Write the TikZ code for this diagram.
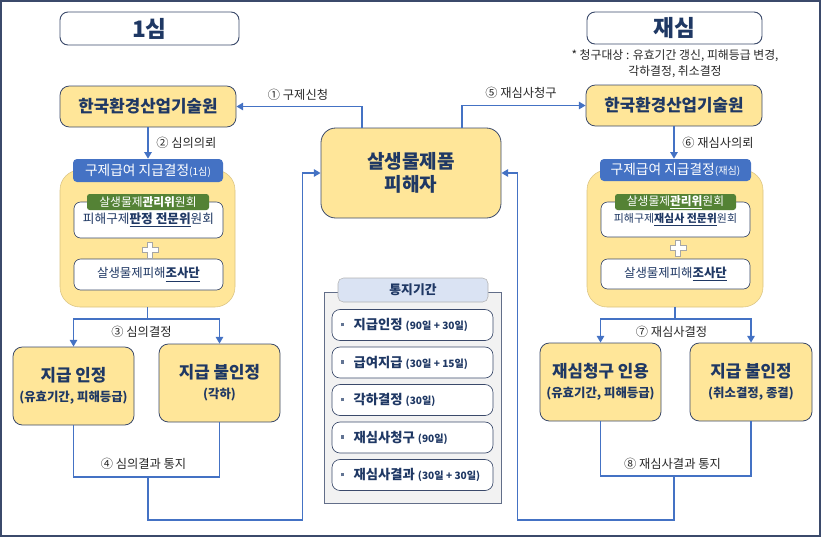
\documentclass[tikz,border=0pt]{standalone}
\usepackage{fontspec}
\setmainfont{Noto Sans CJK KR}
\usetikzlibrary{calc,arrows.meta}
\definecolor{navy}{HTML}{1F3864}
\definecolor{ink}{HTML}{3B4A6B}
\definecolor{pale}{HTML}{FFE699}
\definecolor{arrblue}{HTML}{4472C4}
\definecolor{tagc}{HTML}{548235}
\definecolor{tabc}{HTML}{DAE3F3}
\definecolor{panelc}{HTML}{F2F2F2}
\definecolor{txt}{HTML}{262626}

\begin{document}
\begin{tikzpicture}[x=0.75pt,y=-0.75pt,
	every node/.style={inner sep=0pt},
	titlebox/.style={draw=ink,fill=white,rounded corners=6pt,line width=0.7pt,text=navy,font=\bfseries\fontsize{17}{18}\selectfont},
	ybox/.style={draw=ink,fill=pale,rounded corners=7pt,line width=0.6pt,text=navy,align=center},
	cont/.style={fill=pale,draw=pale!85!black,rounded corners=15pt},
	head/.style={fill=arrblue,rounded corners=3pt,text=white,font=\fontsize{10.3}{12}\selectfont},
	wbox/.style={draw=ink,fill=white,rounded corners=5pt,line width=0.5pt,text=navy},
	tag/.style={fill=tagc,rounded corners=2pt,text=white,font=\fontsize{8.8}{10}\selectfont},
	lab/.style={text=txt,font=\fontsize{9.2}{11}\selectfont},
	line/.style={draw=arrblue,line width=1.3pt},
	arr/.style={line,-{Triangle[length=5pt,width=5.5pt]}},
	plus/.style={draw=gray!70,fill=white,line width=0.6pt}]
	\useasboundingbox (0,0) rectangle (821,537);
	\draw[ink,line width=1.5pt] (1,1) rectangle (820,536);
	% titles
	\node[titlebox,minimum width=134.25pt,minimum height=24.75pt] (tL) at (149.5,28.5) {1심};
	\node[titlebox,minimum width=131.25pt,minimum height=24pt] (tR) at (674.5,28) {재심};
	\node[text=txt,align=center,font=\fontsize{8.9}{12}\selectfont] (note) at (675,64) {* 청구대상 : 유효기간 갱신, 피해등급 변경,\\각하결정, 취소결정};
	% agency and victim
	\node[ybox,minimum width=132pt,minimum height=30.75pt,font=\bfseries\fontsize{12.6}{14}\selectfont] (kL) at (148,106.5) {한국환경산업기술원};
	\node[ybox,minimum width=132pt,minimum height=30.75pt,font=\bfseries\fontsize{12.6}{14}\selectfont] (kR) at (674,105.5) {한국환경산업기술원};
	\node[ybox,rounded corners=11pt,minimum width=135pt,minimum height=67.5pt,font=\bfseries\fontsize{14.3}{17.5}\selectfont] (vic) at (411,173) {살생물제품\\피해자};
	% committees
	\node[cont,minimum width=131.25pt,minimum height=102.75pt] (cL) at (147.5,238.5) {};
	\node[cont,minimum width=132pt,minimum height=102.75pt] (cR) at (675,238.5) {};
	\node[head,minimum width=112.5pt,minimum height=17.25pt] (hL) at (148,170.5) {구제급여 지급결정{\fontsize{7.6}{8}\selectfont(1심)}};
	\node[head,minimum width=113.25pt,minimum height=16.5pt] (hR) at (675.5,170) {구제급여 지급결정{\fontsize{7.6}{8}\selectfont(재심)}};
	\node[wbox,minimum width=111.75pt,minimum height=27pt,font=\fontsize{9.5}{10}\selectfont] (b1L) at (148.5,220) {\raisebox{-3pt}{피해구제\underline{\textbf{판정 전문위}}원회}};
	\node[wbox,minimum width=111.75pt,minimum height=26.25pt,font=\fontsize{8.2}{9}\selectfont] (b1R) at (675.5,219.5) {\raisebox{-3pt}{피해구제\underline{\textbf{재심사 전문위}}원회}};
	\node[tag,minimum width=91.5pt,minimum height=12pt] (tgL) at (148,202) {살생물제\textbf{관리위}원회};
	\node[tag,minimum width=90.75pt,minimum height=12pt] (tgR) at (675.5,202) {살생물제\underline{\textbf{관리위}}원회};
	\node[wbox,minimum width=111.75pt,minimum height=23.25pt,font=\fontsize{9.3}{10}\selectfont] (b2L) at (148.5,274.5) {살생물제피해\underline{\textbf{조사단}}};
	\node[wbox,minimum width=111.75pt,minimum height=22.5pt,font=\fontsize{9.3}{10}\selectfont] (b2R) at (675.5,274) {살생물제피해\underline{\textbf{조사단}}};
	\foreach \x/\y in {150/250,678/248}
		\draw[plus] (\x,\y) ++(-2.5,-8) -- ++(5,0) -- ++(0,5.5) -- ++(5.5,0) -- ++(0,5) -- ++(-5.5,0) -- ++(0,5.5) -- ++(-5,0) -- ++(0,-5.5) -- ++(-5.5,0) -- ++(0,-5) -- ++(5.5,0) -- cycle;
	% results
	\node[ybox,minimum width=90.75pt,minimum height=58.5pt,font=\bfseries\fontsize{12.6}{15}\selectfont] (aL) at (73.5,386) {지급 인정\\{\fontsize{9.3}{10}\selectfont(유효기간, 피해등급)}};
	\node[ybox,minimum width=90.75pt,minimum height=58.5pt,font=\bfseries\fontsize{12.6}{15}\selectfont] (nL) at (219.5,383) {지급 불인정\\{\fontsize{9.3}{10}\selectfont(각하)}};
	\node[ybox,minimum width=90.75pt,minimum height=58.5pt,font=\bfseries\fontsize{12.6}{15}\selectfont] (rA) at (600.5,382) {재심청구 인용\\{\fontsize{9.3}{10}\selectfont(유효기간, 피해등급)}};
	\node[ybox,minimum width=91.5pt,minimum height=58.5pt,font=\bfseries\fontsize{12.6}{15}\selectfont] (rN) at (751,382) {지급 불인정\\{\fontsize{9.3}{10}\selectfont(취소결정, 종결)}};
	% notice periods
	\node[draw=ink!80,fill=panelc,line width=0.6pt,minimum width=132.75pt,minimum height=158.25pt] (pan) at (412.5,397.5) {};
	\node[draw=gray!60,fill=tabc,rounded corners=4pt,minimum width=112.5pt,minimum height=18pt,text=navy,font=\bfseries\fontsize{9.6}{11}\selectfont] (tab) at (413,290) {통지기간};
	\foreach \txt/\per [count=\i] in {지급인정/90일 + 30일,급여지급/30일 + 15일,각하결정/30일,재심사청구/90일,재심사결과/30일 + 30일}{
		\node[wbox,rounded corners=6pt,minimum width=120.75pt,minimum height=23.25pt] (it\i) at (412.5,{325+37.5*(\i-1)}) {};
		\node[anchor=west,text=navy,font=\bfseries\fontsize{10}{11}\selectfont] (itx\i) at ($(it\i.west)+(9,0)$) {\textcolor{navy!70}{\rule[2.5pt]{2.5pt}{2.5pt}}\hspace{7pt}\txt~{\fontsize{7.6}{8}\selectfont(\per)}};
	}
	% connectors
	\draw[arr] ($(vic.north)+(-49,0)$) |- (kL.east);
	\draw[arr] ($(vic.north)+(51,0)$) |- (kR.west);
	\draw[arr] (kL.south) -- (kL.south |- hL.north);
	\draw[arr] (kR.south) -- (kR.south |- hR.north);
	\draw[line] (cL.south) -- ++(0,12) coordinate (j3);
	\draw[arr] (j3) -| (aL.north);
	\draw[arr] (j3) -| (nL.north);
	\draw[line] (cR.south) -- ++(0,12) coordinate (j7);
	\draw[arr] (j7) -| (rA.north);
	\draw[arr] (j7) -| (rN.north);
	\coordinate (j4) at (148,477);
	\coordinate (j8) at (674,476);
	\draw[line] (aL.south) |- (j4) -| (nL.south);
	\draw[line] (rA.south) |- (j8) -| (rN.south);
	\draw[arr] (j4) -- ++(0,43) -| ($(vic.west)+(-18,0)$) -- (vic.west);
	\draw[arr] (j8) -- ++(0,44) -| ($(vic.east)+(16,0)$) -- (vic.east);
	\node[lab] (lb1) at (298,95) {① 구제신청};
	\node[lab] (lb5) at (521,93) {⑤ 재심사청구};
	\node[lab,anchor=west] (lb2) at (156,143) {② 심의의뢰};
	\node[lab,anchor=west] (lb6) at (682,143) {⑥ 재심사의뢰};
	\node[lab] (lb3) at (141.5,332) {③ 심의결정};
	\node[lab] (lb7) at (671.5,332) {⑦ 재심사결정};
	\node[lab] (lb4) at (143.5,464) {④ 심의결과 통지};
	\node[lab] (lb8) at (672.5,464) {⑧ 재심사결과 통지};
\end{tikzpicture}
\end{document}
